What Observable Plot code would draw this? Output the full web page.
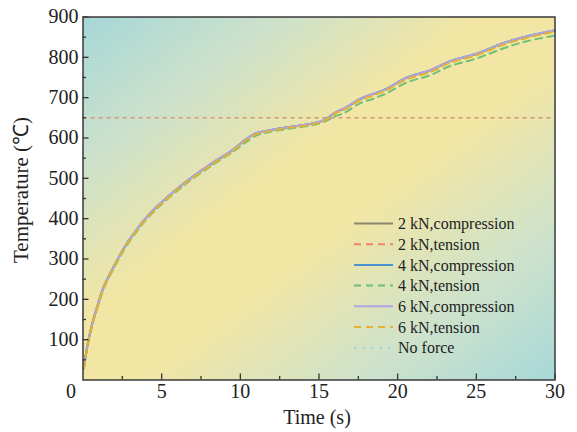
<!DOCTYPE html>
<html><head><meta charset="utf-8">
<script src="https://cdn.jsdelivr.net/npm/d3@7"></script>
<script src="https://cdn.jsdelivr.net/npm/@observablehq/plot@0.6"></script>
<style>html,body{margin:0;padding:0;background:#fff}svg{display:block}</style>
</head><body><div id="chart"></div>
<script>
// ---- data ----
const time     = [0.05, 0.26, 0.58, 0.89, 1.31, 1.94, 2.57, 3.2, 4.05, 4.9, 5.74, 6.8, 8.3, 9.5, 10.4, 11.0, 11.6, 12.9, 14.6, 15.25, 16.1, 16.6, 17.6, 18.5, 19.3, 20.6, 22.1, 23.3, 25, 26.7, 28.2, 30];
const noForce  = [30, 81, 139, 180, 230, 280, 325, 362, 404, 437, 466, 499, 540, 570, 598, 612, 617, 626, 636, 644, 665, 674, 697, 710, 722, 750, 768, 790, 809, 835, 852, 867];
const comp2kN  = [30, 81, 139, 180, 230, 280, 325, 362, 404, 437, 466, 499, 540, 570, 598, 612, 617, 626, 636, 643, 665, 673, 697, 710, 722, 750, 768, 790, 808, 835, 852, 866];
const tens2kN  = [29, 80, 138, 179, 229, 279, 324, 361, 403, 436, 465, 498, 539, 569, 597, 611, 616, 625, 635, 642, 664, 672, 696, 709, 721, 749, 767, 789, 808, 834, 851, 866];
const tens4kN  = [28, 78, 135, 176, 226, 276, 320, 357, 399, 432, 461, 494, 535, 565, 591, 606, 613, 622, 632, 639, 655, 662, 686, 698, 711, 738, 756, 778, 797, 822, 840, 854];
const comp4kN  = [29, 80, 138, 179, 230, 280, 325, 362, 404, 437, 466, 499, 539, 570, 598, 612, 617, 626, 636, 643, 664, 673, 696, 710, 722, 750, 768, 790, 809, 835, 852, 867];
const comp6kN  = [30, 81, 139, 180, 230, 280, 325, 362, 404, 437, 466, 499, 540, 570, 598, 612, 617, 626, 636, 644, 665, 674, 697, 710, 722, 750, 768, 790, 809, 835, 852, 867];
const tens6kN  = [28, 79, 137, 178, 228, 278, 322, 359, 401, 434, 463, 496, 537, 567, 595, 609, 615, 624, 634, 641, 662, 670, 693, 706, 719, 746, 764, 786, 805, 831, 848, 864];
const refTemp = 650;
const xTicks = [5, 10, 15, 20, 25, 30];
const xMinor = [2.5, 7.5, 12.5, 17.5, 22.5, 27.5];
const yTicks = [100, 200, 300, 400, 500, 600, 700, 800, 900];
const yMinor = [50, 150, 250, 350, 450, 550, 650, 750, 850];
const seriesNames = ["No force", "2 kN,compression", "2 kN,tension", "4 kN,tension", "4 kN,compression", "6 kN,compression", "6 kN,tension"];
const seriesValues = [noForce, comp2kN, tens2kN, tens4kN, comp4kN, comp6kN, tens6kN];
const legendOrder = ["2 kN,compression", "2 kN,tension", "4 kN,compression", "4 kN,tension", "6 kN,compression", "6 kN,tension", "No force"];

// ---- styles ----
const styles = {
  "No force":         {stroke: "#9ad8d8", dash: "2.5,6"},
  "2 kN,compression": {stroke: "#8b8670", dash: null},
  "2 kN,tension":     {stroke: "#f08272", dash: "7,5"},
  "4 kN,tension":     {stroke: "#6cc07a", dash: "7,5"},
  "4 kN,compression": {stroke: "#4a94d4", dash: null},
  "6 kN,compression": {stroke: "#b2a4e2", dash: null},
  "6 kN,tension":     {stroke: "#e2b230", dash: "7,5"}
};
const FONT = "'Liberation Serif','Times New Roman',serif";

const lineMarks = seriesNames.map((name, i) => {
  const rows = time.map((t, j) => ({t, v: seriesValues[i][j]}));
  return Plot.line(rows, {x: "t", y: "v", stroke: styles[name].stroke, strokeWidth: 2,
    strokeDasharray: styles[name].dash, curve: "catmull-rom"});
});

const svg = Plot.plot({
  width: 577, height: 432,
  marginLeft: 82.5, marginRight: 22.5, marginTop: 16.5, marginBottom: 52.5,
  style: {fontFamily: FONT, fontSize: "20px", color: "#222", background: "transparent"},
  x: {domain: [0, 30]},
  y: {domain: [0, 900]},
  marks: [
    Plot.frame({fill: "url(#bg)"}),
    Plot.ruleY([refTemp], {stroke: "#d49a74", strokeWidth: 1.5, strokeDasharray: "4,4"}),
    ...lineMarks,
    Plot.axisX({ticks: xTicks, tickSize: -6, tickPadding: 10, label: null, stroke: "#333", strokeWidth: 1.3}),
    Plot.axisX({ticks: [0], tickSize: 0, tickPadding: 4, dx: -12, label: null}),
    Plot.axisX({ticks: xMinor, tickSize: -3.5, tickFormat: () => "", label: null, stroke: "#333", strokeWidth: 1.3}),
    Plot.axisY({ticks: yTicks, tickSize: -6, tickPadding: 10.5, label: null, stroke: "#333", strokeWidth: 1.3}),
    Plot.axisY({ticks: yMinor, tickSize: -3.5, tickFormat: () => "", label: null, stroke: "#333", strokeWidth: 1.3}),
    Plot.frame({stroke: "#3a3a3a", strokeWidth: 1.5})
  ]
});

// gradient background
const s = d3.select(svg);
const grad = s.insert("defs", ":first-child").append("linearGradient")
  .attr("id", "bg").attr("x1", 0).attr("y1", 0).attr("x2", 1).attr("y2", 1);
[[0, "#a6d7d7"], [0.2, "#cbe1cc"], [0.42, "#f2e6a4"], [0.56, "#f2e6a4"], [0.8, "#cde2cc"], [1, "#a7d8d8"]]
  .forEach(([o, c]) => grad.append("stop").attr("offset", o).attr("stop-color", c));

// axis titles
s.append("text").attr("x", 317).attr("y", 424).attr("text-anchor", "middle")
  .attr("font-family", FONT).attr("font-size", 20).attr("fill", "#222").text("Time (s)");
s.append("text").attr("transform", "translate(28,190) rotate(-90)").attr("text-anchor", "middle")
  .attr("font-family", FONT).attr("font-size", 21).attr("fill", "#222").text("Temperature (℃)");

// legend
const lg = s.append("g");
legendOrder.forEach((name, i) => {
  const y = 223.5 + i * 20.7;
  lg.append("line").attr("x1", 354).attr("x2", 393).attr("y1", y).attr("y2", y)
    .attr("stroke", styles[name].stroke).attr("stroke-width", 2)
    .attr("stroke-dasharray", styles[name].dash);
  lg.append("text").attr("x", 398).attr("y", y).attr("dy", "0.35em").attr("text-anchor", "start")
    .attr("font-family", FONT).attr("font-size", 16).attr("fill", "#222").text(name);
});

document.getElementById("chart").append(svg);
</script>
</body></html>
